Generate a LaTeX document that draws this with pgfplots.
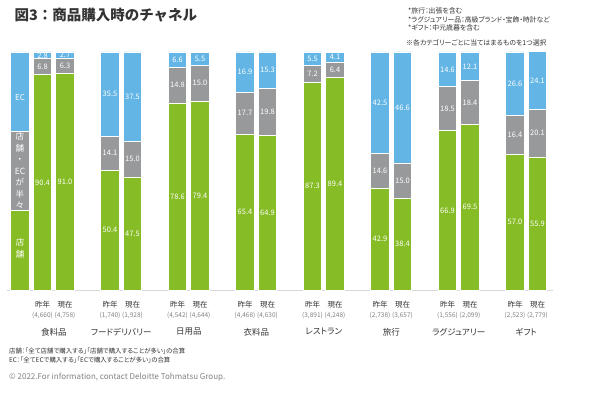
\documentclass[border=0pt]{standalone}
\usepackage{fontspec}
\setmainfont{Noto Sans CJK JP}
\newfontfamily\jpp[RawFeature=+palt]{Noto Sans CJK JP}
\usepackage{pgfplots}
\usepackage{pgfplotstable}
\pgfplotsset{compat=1.18}
\definecolor{cgreen}{HTML}{86BC25}
\definecolor{cgray}{HTML}{97999B}
\definecolor{cblue}{HTML}{62B5E5}
\definecolor{ctext}{HTML}{333333}

% legend bar (x=0) + data bars; g = 店舗, s = 店舗・ECが半々, e = EC
\pgfplotstableread{
x g s e
0 33.3 33.4 33.3
1 90.4 6.8 2.8
2 91.0 6.3 2.7
4 50.4 14.1 35.5
5 47.5 15.0 37.5
7 78.6 14.8 6.6
8 79.4 15.0 5.5
10 65.4 17.7 16.9
11 64.9 19.8 15.3
13 87.3 7.2 5.5
14 89.4 6.4 4.1
16 42.9 14.6 42.5
17 38.4 15.0 46.6
19 66.9 18.5 14.6
20 69.5 18.4 12.1
22 57.0 16.4 26.6
23 55.9 20.1 24.1
}\bars

\pgfplotstableread{
x g s e
1 90.4 6.8 2.8
2 91.0 6.3 2.7
4 50.4 14.1 35.5
5 47.5 15.0 37.5
7 78.6 14.8 6.6
8 79.4 15.0 5.5
10 65.4 17.7 16.9
11 64.9 19.8 15.3
13 87.3 7.2 5.5
14 89.4 6.4 4.1
16 42.9 14.6 42.5
17 38.4 15.0 46.6
19 66.9 18.5 14.6
20 69.5 18.4 12.1
22 57.0 16.4 26.6
23 55.9 20.1 24.1
}\vals

\pgfplotsset{geom/.style={x=22.5pt, y=2.38pt, xmin=-0.6, xmax=23.7, ymin=0, ymax=100,
  at={(6.5pt,-290pt)}, anchor=south west}}

\begin{document}
\begin{tikzpicture}
\useasboundingbox (0,0) rectangle (600pt,-393pt);
\begin{axis}[geom, ybar stacked, bar width=18.5pt,
  axis x line*=bottom, axis y line=none,
  x axis line style={draw=black!15, line width=0.6pt},
  major tick length=0pt, xtick style={draw=none},
  xtick={1,2,4,5,7,8,10,11,13,14,16,17,19,20,22,23},
  xticklabels={
   {昨年\\{\color{gray}\fontsize{6.5}{8}\selectfont(4,660)}},
   {現在\\{\color{gray}\fontsize{6.5}{8}\selectfont(4,758)}},
   {昨年\\{\color{gray}\fontsize{6.5}{8}\selectfont(1,740)}},
   {現在\\{\color{gray}\fontsize{6.5}{8}\selectfont(1,928)}},
   {昨年\\{\color{gray}\fontsize{6.5}{8}\selectfont(4,542)}},
   {現在\\{\color{gray}\fontsize{6.5}{8}\selectfont(4,644)}},
   {昨年\\{\color{gray}\fontsize{6.5}{8}\selectfont(4,468)}},
   {現在\\{\color{gray}\fontsize{6.5}{8}\selectfont(4,630)}},
   {昨年\\{\color{gray}\fontsize{6.5}{8}\selectfont(3,891)}},
   {現在\\{\color{gray}\fontsize{6.5}{8}\selectfont(4,248)}},
   {昨年\\{\color{gray}\fontsize{6.5}{8}\selectfont(2,738)}},
   {現在\\{\color{gray}\fontsize{6.5}{8}\selectfont(3,657)}},
   {昨年\\{\color{gray}\fontsize{6.5}{8}\selectfont(1,556)}},
   {現在\\{\color{gray}\fontsize{6.5}{8}\selectfont(2,099)}},
   {昨年\\{\color{gray}\fontsize{6.5}{8}\selectfont(2,523)}},
   {現在\\{\color{gray}\fontsize{6.5}{8}\selectfont(2,779)}}},
  xticklabel style={align=center, anchor=north, inner sep=0pt, yshift=-11pt,
    font=\fontsize{7.5}{10}\selectfont, text=ctext},
  extra x ticks={1.5,4.5,7.5,10.5,13.5,16.5,19.5,22.5},
  extra x tick labels={食料品,フードデリバリー,日用品,衣料品,レストラン,旅行,ラグジュアリー,ギフト},
  extra x tick style={xticklabel style={yshift=-27pt, font=\jpp\fontsize{8.5}{10}\selectfont}},
  clip=false]
\addplot[fill=cgreen, draw=white, line width=0.7pt] table[x=x, y=g]{\bars};
\addplot[fill=cgray, draw=white, line width=0.7pt] table[x=x, y=s]{\bars};
\addplot[fill=cblue, draw=white, line width=0.7pt] table[x=x, y=e]{\bars};
\end{axis}

\begin{axis}[geom, axis lines=none, clip=false,
  nodes near coords, point meta=explicit symbolic,
  every node near coord/.append style={anchor=center, text=white, inner sep=0pt,
    font=\fontsize{7.5}{8}\selectfont}]
\addplot[draw=none, mark=none] table[x=x, y expr=\thisrow{g}/2, meta=g]{\vals};
\addplot[draw=none, mark=none] table[x=x, y expr=\thisrow{g}+\thisrow{s}/2, meta=s]{\vals};
\addplot[draw=none, mark=none] table[x=x, y expr=\thisrow{g}+\thisrow{s}+\thisrow{e}/2, meta=e]{\vals};
% legend-bar captions
\node[text=white, font=\fontsize{8}{9}\selectfont] at (axis cs:0,81) {EC};
\node[text=white, font=\fontsize{8.5}{11.5}\selectfont, align=center] at (axis cs:0,50) {店\\舗\\・\\EC\\が\\半\\々};
\node[text=white, font=\fontsize{8.5}{11.5}\selectfont, align=center] at (axis cs:0,17.5) {店\\舗};
\end{axis}

% title and notes
\node[anchor=west, font=\bfseries\fontsize{14.5}{16}\selectfont, text=ctext] at (11pt,-15pt) {図3：商品購入時のチャネル};
\node[anchor=north west, align=left, font=\jpp\fontsize{6.9}{8.6}\selectfont, text=ctext, inner sep=0pt] at (408pt,-7.5pt)
  {*旅行：出張を含む\\*ラグジュアリー品：高級ブランド・宝飾・時計など\\*ギフト：中元歳暮を含む};
\node[anchor=west, font=\jpp\fontsize{6.9}{8}\selectfont, text=ctext, inner sep=0pt] at (406pt,-43pt) {※各カテゴリーごとに当てはまるものを1つ選択};
\node[anchor=north west, align=left, font=\jpp\fontsize{6.4}{8.6}\selectfont, text=ctext, inner sep=0pt] at (9pt,-348pt)
  {店舗：「全て店舗で購入する」「店舗で購入することが多い」の合算\\EC：「全てECで購入する」「ECで購入することが多い」の合算};
\node[anchor=west, font=\fontsize{8}{9}\selectfont, text=gray, inner sep=0pt] at (9pt,-377pt)
  {© 2022.For information, contact Deloitte Tohmatsu Group.};
\end{tikzpicture}
\end{document}
